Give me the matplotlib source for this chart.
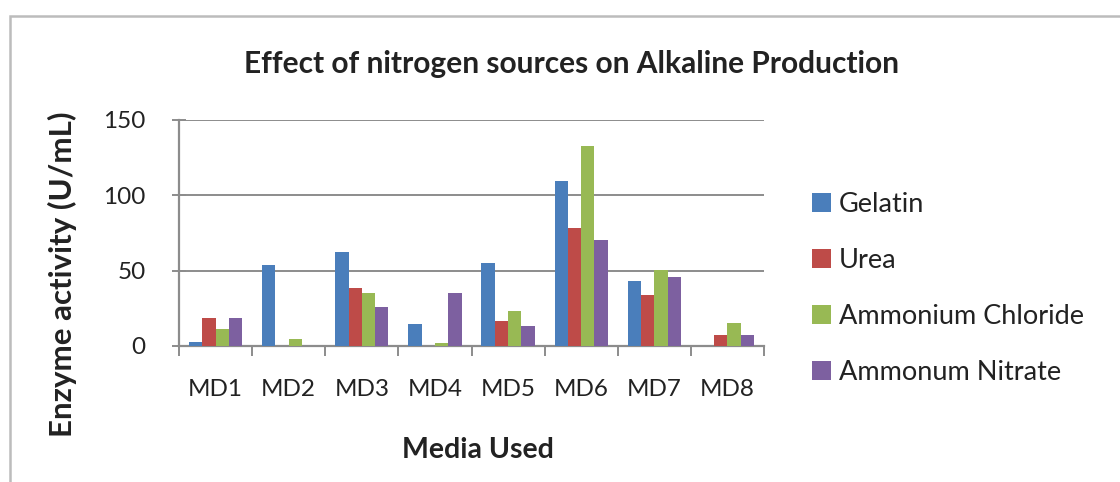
import matplotlib
matplotlib.use("Agg")
import matplotlib.pyplot as plt
import numpy as np
from matplotlib.patches import Rectangle

media = ["MD1", "MD2", "MD3", "MD4", "MD5", "MD6", "MD7", "MD8"]
gelatin = [2.5, 53.8, 62.2, 14.4, 55.3, 109.6, 43.4, 0]
urea = [18.4, 0, 38.3, 0, 16.8, 78.1, 33.9, 7.3]
ammonium_chloride = [11.5, 4.6, 35.0, 2.2, 23.0, 133.0, 50.5, 15.5]
ammonium_nitrate = [18.4, 0, 25.7, 35.0, 13.3, 70.5, 45.8, 7.3]
series_names = ["Gelatin", "Urea", "Ammonium Chloride", "Ammonum Nitrate"]
series_colors = ["#4A7EBB", "#BE4B48", "#98B954", "#7D60A0"]
y_ticks = [0, 50, 100, 150]

W, H = 1120, 482
plt.rcParams["font.family"] = ["Lato", "DejaVu Sans"]
fig = plt.figure(figsize=(W / 100, H / 100), dpi=100)
fig.patch.set_facecolor("white")

# chart frame (top and left edges visible)
fig.patches.append(Rectangle((10 / W, -0.1), 1.2, 1 - 16 / H + 0.1,
                             transform=fig.transFigure, fill=False,
                             edgecolor="#bcbcbc", linewidth=1.8))

ax = fig.add_axes([179 / W, 1 - 346 / H, (764 - 179) / W, (346 - 120) / H])
series = [gelatin, urea, ammonium_chloride, ammonium_nitrate]
x = np.arange(len(media))
bw = 1 / 5.5
for i, (vals, name, col) in enumerate(zip(series, series_names, series_colors)):
    ax.bar(x + (i - 1.5) * bw, vals, width=bw, color=col, label=name, zorder=3)

ax.set_xlim(-0.5, len(media) - 0.5)
ax.set_ylim(0, 150)
ax.set_yticks(y_ticks)
ax.set_yticklabels([str(v) for v in y_ticks], fontsize=17.5, color="#222222")
ax.yaxis.grid(True, color="#8c8c8c", linewidth=1.4, zorder=0)
ax.set_axisbelow(True)

ax.set_xticks(x)
ax.set_xticklabels(media, fontsize=17.5, color="#222222")
ax.set_xticks(np.arange(len(media) + 1) - 0.5, minor=True)
ax.tick_params(axis="x", which="major", length=0, pad=24)
ax.tick_params(axis="x", which="minor", length=7, width=1.4, color="#8c8c8c")
ax.tick_params(axis="y", which="major", length=10, width=1.4, color="#8c8c8c",
               direction="inout", pad=19)

for s in ["top", "right"]:
    ax.spines[s].set_visible(False)
for s in ["left", "bottom"]:
    ax.spines[s].set_color("#8c8c8c")
    ax.spines[s].set_linewidth(1.6)

fig.text(571 / W, 1 - 64 / H, "Effect of nitrogen sources on Alkaline Production",
         ha="center", va="center", fontsize=21.5, fontweight="bold", color="#222222")
fig.text(62 / W, 1 - 274 / H, "Enzyme activity (U/mL)", rotation=90,
         ha="center", va="center", fontsize=22.5, fontweight="bold", color="#222222")
fig.text(478 / W, 1 - 450 / H, "Media Used", ha="center", va="center",
         fontsize=20.5, fontweight="bold", color="#222222")

leg = ax.legend(loc="upper left", bbox_to_anchor=(812 / W, 1 - 192 / H),
                bbox_transform=fig.transFigure, frameon=False, fontsize=19.5,
                handlelength=0.7, handleheight=0.7, handletextpad=0.3,
                labelspacing=1.15, borderaxespad=0, borderpad=0)
for t in leg.get_texts():
    t.set_color("#222222")

fig.savefig("out.png", dpi=100)
